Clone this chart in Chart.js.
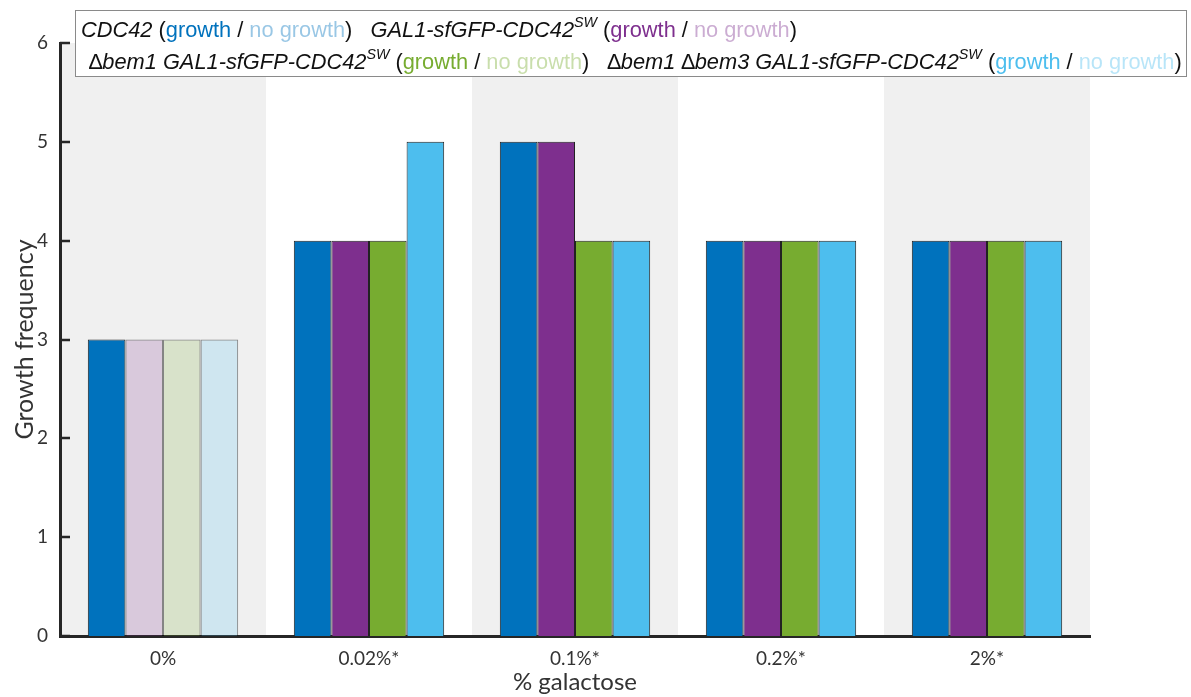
<!DOCTYPE html>
<html>
<head>
<meta charset="utf-8">
<script src="https://cdn.jsdelivr.net/npm/chart.js@4/dist/chart.umd.min.js"></script>
<style>
  html, body { margin: 0; padding: 0; background: #fff; }
  #wrap { width: 1191px; height: 697px; }
</style>
</head>
<body>
<div id="wrap"><canvas id="growthChart" width="1191" height="697"></canvas></div>
<script>
// galactose levels
var categories = ["0%", "0.02%*", "0.1%*", "0.2%*", "2%*"];

// growth frequency per strain
var cdc42 = [3, 4, 5, 4, 4];
var gal1Cdc42 = [3, 4, 5, 4, 4];
var bem1Gal1 = [3, 4, 4, 4, 4];
var bem1bem3Gal1 = [3, 5, 4, 4, 4];

// 1 = growth, 0 = no growth
var cdc42Growth = [1, 1, 1, 1, 1];
var gal1Cdc42Growth = [0, 1, 1, 1, 1];
var bem1Gal1Growth = [0, 1, 1, 1, 1];
var bem1bem3Gal1Growth = [0, 1, 1, 1, 1];

var yTicks = [0, 1, 2, 3, 4, 5, 6];

var BLUE = [0, 114, 189];
var PURPLE = [126, 47, 142];
var GREEN = [119, 172, 48];
var CYAN = [77, 190, 238];
var AXIS = "#262626";
var FONT = "Lato, 'Open Sans', sans-serif";
var LEGFONT = "'Liberation Sans', Arial, sans-serif";

function rgba(c, a) {
    return "rgba(" + c[0] + "," + c[1] + "," + c[2] + "," + a + ")";
}

function makeSet(label, values, growth, col) {
    return {
        label: label,
        data: values,
        backgroundColor: growth.map(function (g) { return g ? rgba(col, 1) : rgba(col, 0.2); }),
        borderColor: growth.map(function (g) { return g ? "#222" : "rgba(0,0,0,0.45)"; }),
        borderWidth: 1,
        borderSkipped: "start",
        categoryPercentage: 0.73,
        barPercentage: 1.0
    };
}

// grey/white alternating bands behind each category (drawn before the axes)
const bandPlugin = {
    id: "bands",
    beforeDraw(chart) {
        const ctx = chart.ctx;
        const xs = chart.scales.x;
        const area = chart.chartArea;
        const w = (area.right - area.left) / categories.length;
        ctx.save();
        ctx.fillStyle = "#f0f0f0";
        for (let i = 0; i < categories.length; i += 2) {
            const cx = xs.getPixelForValue(i);
            ctx.fillRect(cx - w / 2, area.top, w, area.bottom - area.top);
        }
        ctx.restore();
    }
};

// inward tick marks on y axis
const tickPlugin = {
    id: "innerTicks",
    afterDatasetsDraw(chart) {
        const ctx = chart.ctx;
        const ys = chart.scales.y;
        const left = chart.chartArea.left;
        ctx.save();
        ctx.strokeStyle = AXIS;
        ctx.lineWidth = 2.5;
        yTicks.forEach(function (v) {
            const py = Math.round(ys.getPixelForValue(v));
            ctx.beginPath();
            ctx.moveTo(left, py);
            ctx.lineTo(left + 10, py);
            ctx.stroke();
        });
        ctx.restore();
    }
};

// legend lines: [text, italic, color, superscript]
function growthParts(col) {
    return [
        [" (", false, "#111", false],
        ["growth", false, rgba(col, 1), false],
        [" / ", false, "#111", false],
        ["no growth", false, rgba(col, 0.4), false],
        [")", false, "#111", false]
    ];
}
var legendLine1 = [["CDC42", true, "#111", false]].concat(growthParts(BLUE))
    .concat([["   GAL1-sfGFP-CDC42", true, "#111", false], ["SW", true, "#111", true]])
    .concat(growthParts(PURPLE));
var legendLine2 = [["\u2206", false, "#111", false], ["bem1 GAL1-sfGFP-CDC42", true, "#111", false], ["SW", true, "#111", true]]
    .concat(growthParts(GREEN))
    .concat([["   \u2206", false, "#111", false], ["bem1 ", true, "#111", false], ["\u2206", false, "#111", false],
             ["bem3 GAL1-sfGFP-CDC42", true, "#111", false], ["SW", true, "#111", true]])
    .concat(growthParts(CYAN));

function drawLine(ctx, parts, x, y) {
    parts.forEach(function (p) {
        const size = p[3] ? 14.3 : 21.8;
        ctx.font = (p[1] ? "italic " : "") + size + "px " + LEGFONT;
        ctx.fillStyle = p[2];
        ctx.fillText(p[0], x, p[3] ? y - 10 : y);
        x += ctx.measureText(p[0]).width;
    });
}

const legendPlugin = {
    id: "textLegend",
    afterDraw(chart) {
        const ctx = chart.ctx;
        ctx.save();
        ctx.fillStyle = "#fff";
        ctx.fillRect(75, 10, 1112, 67);
        ctx.strokeStyle = "#8a8a8a";
        ctx.lineWidth = 1;
        ctx.strokeRect(75.5, 10.5, 1111, 66);
        ctx.textBaseline = "alphabetic";
        drawLine(ctx, legendLine1, 81, 37);
        drawLine(ctx, legendLine2, 89, 69);
        ctx.restore();
    }
};

const data = {
    labels: categories,
    datasets: [
        makeSet("CDC42", cdc42, cdc42Growth, BLUE),
        makeSet("GAL1-sfGFP-CDC42SW", gal1Cdc42, gal1Cdc42Growth, PURPLE),
        makeSet("bem1 GAL1-sfGFP-CDC42SW", bem1Gal1, bem1Gal1Growth, GREEN),
        makeSet("bem1 bem3 GAL1-sfGFP-CDC42SW", bem1bem3Gal1, bem1bem3Gal1Growth, CYAN)
    ]
};

const config = {
    type: "bar",
    data: data,
    options: {
        responsive: false,
        animation: false,
        layout: { padding: { top: 43, right: 101, left: 0, bottom: 0 } },
        plugins: {
            legend: { display: false },
            tooltip: { enabled: false }
        },
        scales: {
            x: {
                grid: { display: false, drawTicks: false },
                border: { display: true, color: AXIS, width: 3 },
                ticks: { color: "#333", font: { family: FONT, size: 19 }, padding: 11 },
                title: { display: true, text: "% galactose", color: "#333", font: { family: FONT, size: 24 }, padding: { top: 0, bottom: 0 } },
                afterFit(scale) { scale.height = 61; }
            },
            y: {
                min: 0,
                max: 6,
                afterBuildTicks(scale) { scale.ticks = yTicks.map(function (v) { return { value: v }; }); },
                grid: { display: false, drawTicks: false },
                border: { display: true, color: AXIS, width: 3 },
                ticks: { color: "#333", font: { family: FONT, size: 19 }, padding: 12 },
                title: { display: true, text: "Growth frequency", color: "#333", font: { family: FONT, size: 25 }, padding: { top: 10, bottom: 0 } },
                afterFit(scale) { scale.width = 60; }
            }
        }
    },
    plugins: [bandPlugin, tickPlugin, legendPlugin]
};

var growthChart = new Chart(document.getElementById("growthChart"), config);
</script>
</body>
</html>
